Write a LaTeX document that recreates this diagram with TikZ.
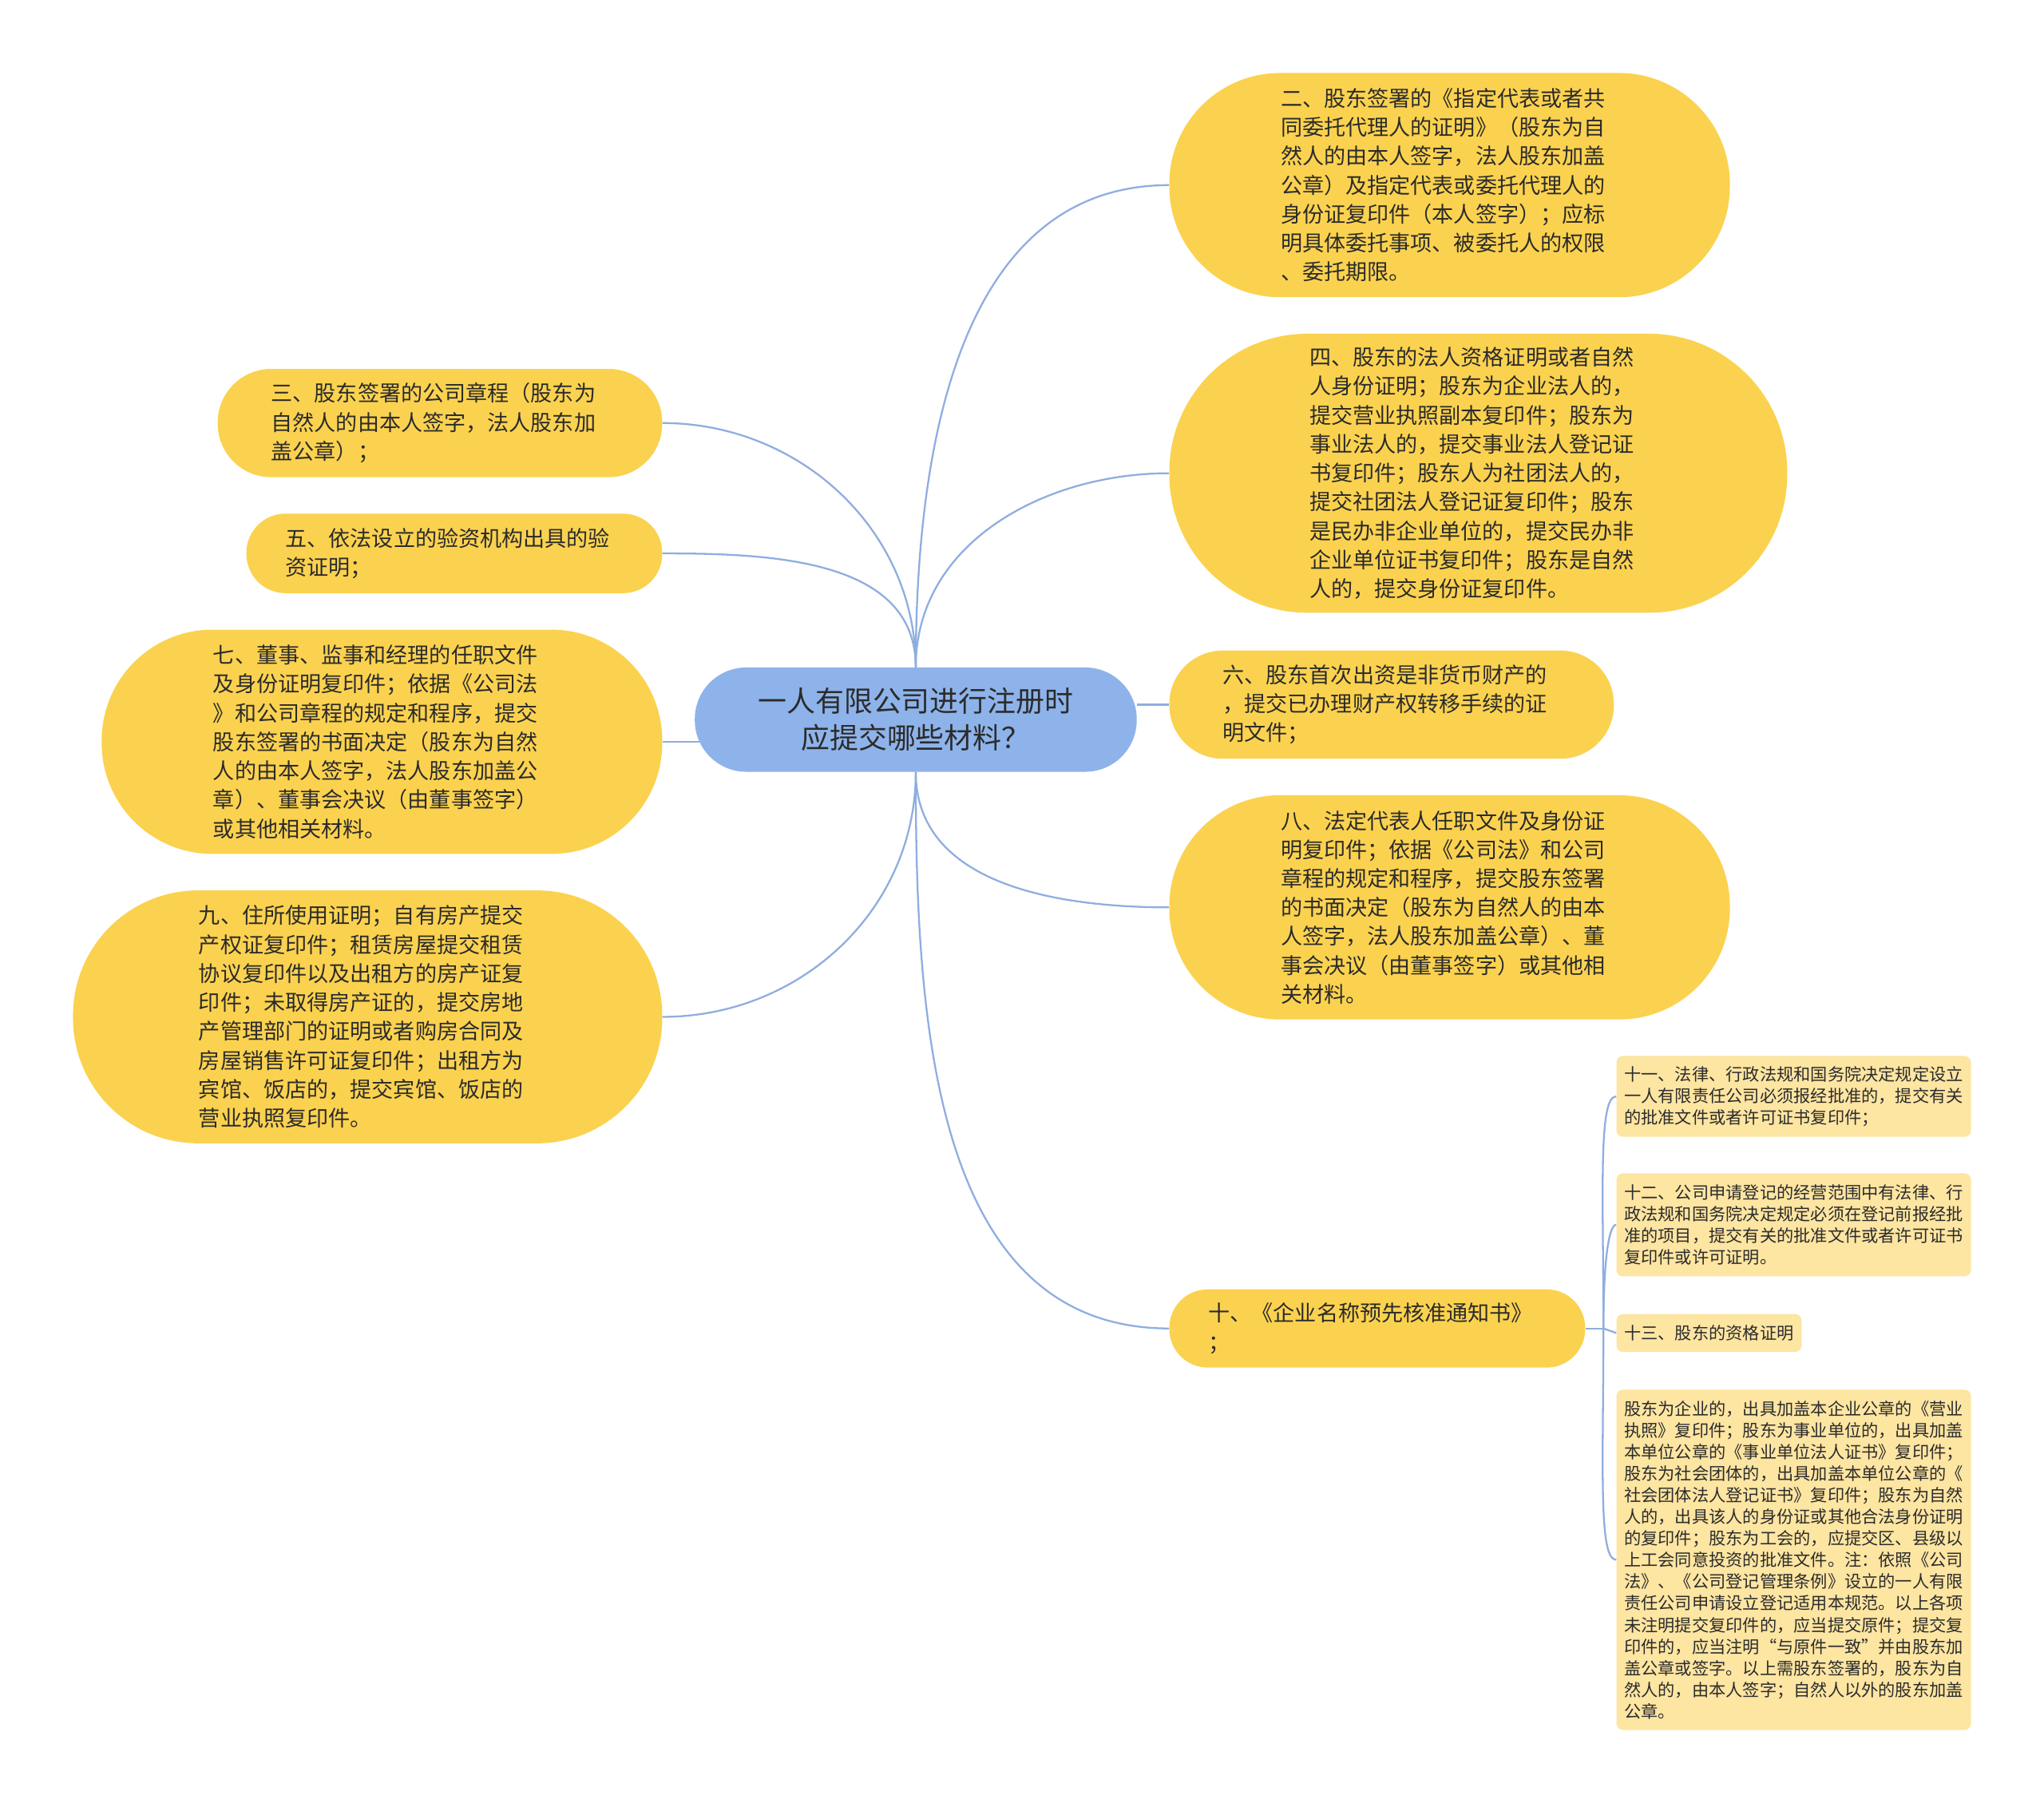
\documentclass[tikz,border=0pt]{standalone}
\usepackage{fontspec}
\usepackage{xcolor}
\newfontfamily\cjk{Noto Sans CJK SC}
\usetikzlibrary{positioning, calc}

\definecolor{rootblue}{HTML}{8EB3EA}
\definecolor{topicyellow}{HTML}{FBD24F}
\definecolor{subyellow}{HTML}{FDE5A2}
\definecolor{linkblue}{HTML}{8FAEE0}
\definecolor{inkgray}{HTML}{2B2B2B}

\tikzset{
  rootnode/.style={fill=rootblue, align=center, text=inkgray, inner sep=0pt,
    font=\cjk\fontsize{22}{28}\selectfont},
  topic/.style={fill=topicyellow, align=left, text width=259pt, text=inkgray, inner sep=0pt,
    font=\cjk\fontsize{16.6}{22.2}\selectfont},
  subtopic/.style={fill=subyellow, align=left, text=inkgray, inner sep=0pt, rounded corners=5,
    font=\cjk\fontsize{13}{16.6}\selectfont},
  link/.style={draw=linkblue, line width=1.4pt},
  hook/.style={out=90, in=180, out looseness=1.5, in looseness=0.2}
}

\begin{document}
\begin{tikzpicture}[x=1pt, y=-1pt]
    \useasboundingbox (0,0) rectangle (1568,1383);
    \fill[white] (0,0) rectangle (1568,1383);

    % Nodes
    \node (root) [rootnode, minimum width=339, minimum height=80, rounded corners=39.5] at (702.5,552) {一人有限公司进行注册时\\应提交哪些材料？};

    \node (n2) [topic, minimum width=430, minimum height=172, rounded corners=85] at (1112,142) {二、股东签署的《指定代表或者共\\同委托代理人的证明》（股东为自\\然人的由本人签字，法人股东加盖\\公章）及指定代表或委托代理人的\\身份证复印件（本人签字）；应标\\明具体委托事项、被委托人的权限\\、委托期限。};
    \node (n4) [topic, minimum width=474, minimum height=214, rounded corners=106] at (1134,363) {四、股东的法人资格证明或者自然\\人身份证明；股东为企业法人的，\\提交营业执照副本复印件；股东为\\事业法人的，提交事业法人登记证\\书复印件；股东人为社团法人的，\\提交社团法人登记证复印件；股东\\是民办非企业单位的，提交民办非\\企业单位证书复印件；股东是自然\\人的，提交身份证复印件。};
    \node (n6) [topic, minimum width=341, minimum height=83, rounded corners=41] at (1067.5,540.5) {六、股东首次出资是非货币财产的\\，提交已办理财产权转移手续的证\\明文件；};
    \node (n8) [topic, minimum width=430, minimum height=172, rounded corners=85] at (1112,696) {八、法定代表人任职文件及身份证\\明复印件；依据《公司法》和公司\\章程的规定和程序，提交股东签署\\的书面决定（股东为自然人的由本\\人签字，法人股东加盖公章）、董\\事会决议（由董事签字）或其他相\\关材料。};
    \node (n10) [topic, minimum width=319, minimum height=60, rounded corners=29.5] at (1056.5,1019) {十、《企业名称预先核准通知书》\\；};

    \node (n3) [topic, minimum width=341, minimum height=83, rounded corners=41] at (337.5,324.5) {三、股东签署的公司章程（股东为\\自然人的由本人签字，法人股东加\\盖公章）；};
    \node (n5) [topic, minimum width=319, minimum height=61, rounded corners=30] at (348.5,424.5) {五、依法设立的验资机构出具的验\\资证明；};
    \node (n7) [topic, minimum width=430, minimum height=172, rounded corners=85] at (293,569) {七、董事、监事和经理的任职文件\\及身份证明复印件；依据《公司法\\》和公司章程的规定和程序，提交\\股东签署的书面决定（股东为自然\\人的由本人签字，法人股东加盖公\\章）、董事会决议（由董事签字）\\或其他相关材料。};
    \node (n9) [topic, minimum width=452, minimum height=194, rounded corners=96] at (282,780) {九、住所使用证明；自有房产提交\\产权证复印件；租赁房屋提交租赁\\协议复印件以及出租方的房产证复\\印件；未取得房产证的，提交房地\\产管理部门的证明或者购房合同及\\房屋销售许可证复印件；出租方为\\宾馆、饭店的，提交宾馆、饭店的\\营业执照复印件。};

    \node (n11) [subtopic, minimum width=272, minimum height=62] at (1376,841) {十一、法律、行政法规和国务院决定规定设立\\一人有限责任公司必须报经批准的，提交有关\\的批准文件或者许可证书复印件；};
    \node (n12) [subtopic, minimum width=272, minimum height=79] at (1376,939.5) {十二、公司申请登记的经营范围中有法律、行\\政法规和国务院决定规定必须在登记前报经批\\准的项目，提交有关的批准文件或者许可证书\\复印件或许可证明。};
    \node (n13) [subtopic, minimum width=142, minimum height=29] at (1311,1022.5) {十三、股东的资格证明};
    \node (n14) [subtopic, minimum width=272, minimum height=261] at (1376,1196.5) {股东为企业的，出具加盖本企业公章的《营业\\执照》复印件；股东为事业单位的，出具加盖\\本单位公章的《事业单位法人证书》复印件；\\股东为社会团体的，出具加盖本单位公章的《\\社会团体法人登记证书》复印件；股东为自然\\人的，出具该人的身份证或其他合法身份证明\\的复印件；股东为工会的，应提交区、县级以\\上工会同意投资的批准文件。注：依照《公司\\法》、《公司登记管理条例》设立的一人有限\\责任公司申请设立登记适用本规范。以上各项\\未注明提交复印件的，应当提交原件；提交复\\印件的，应当注明“与原件一致”并由股东加\\盖公章或签字。以上需股东签署的，股东为自\\然人的，由本人签字；自然人以外的股东加盖\\公章。};

    \coordinate (hub) at (1230,1019);

    % Edges
    \draw[link] (root.north) to[out=90, in=180] (n2.west);
    \draw[link] (root.north) to[out=90, in=180] (n4.west);
    \draw[link] (root.east |- n6.west) -- (n6.west);
    \draw[link] (root.south) to[out=-90, in=180] (n8.west);
    \draw[link] (root.south) to[out=-90, in=180] (n10.west);

    \draw[link] (root.north) to[out=90, in=0] (n3.east);
    \draw[link] (root.north) to[out=90, in=0] (n5.east);
    \draw[link] ($(root.west |- n7.east)+(3.5,0)$) -- (n7.east);
    \draw[link] (root.south) to[out=-90, in=0] (n9.east);

    \draw[link] (n10.east) -- (hub);
    \draw[link] (hub) to[hook] (n11.west);
    \draw[link] (hub) to[hook] (n12.west);
    \draw[link] (hub) -- (n13.west);
    \draw[link] (hub) to[hook, out=-90] (n14.west);
\end{tikzpicture}
\end{document}
